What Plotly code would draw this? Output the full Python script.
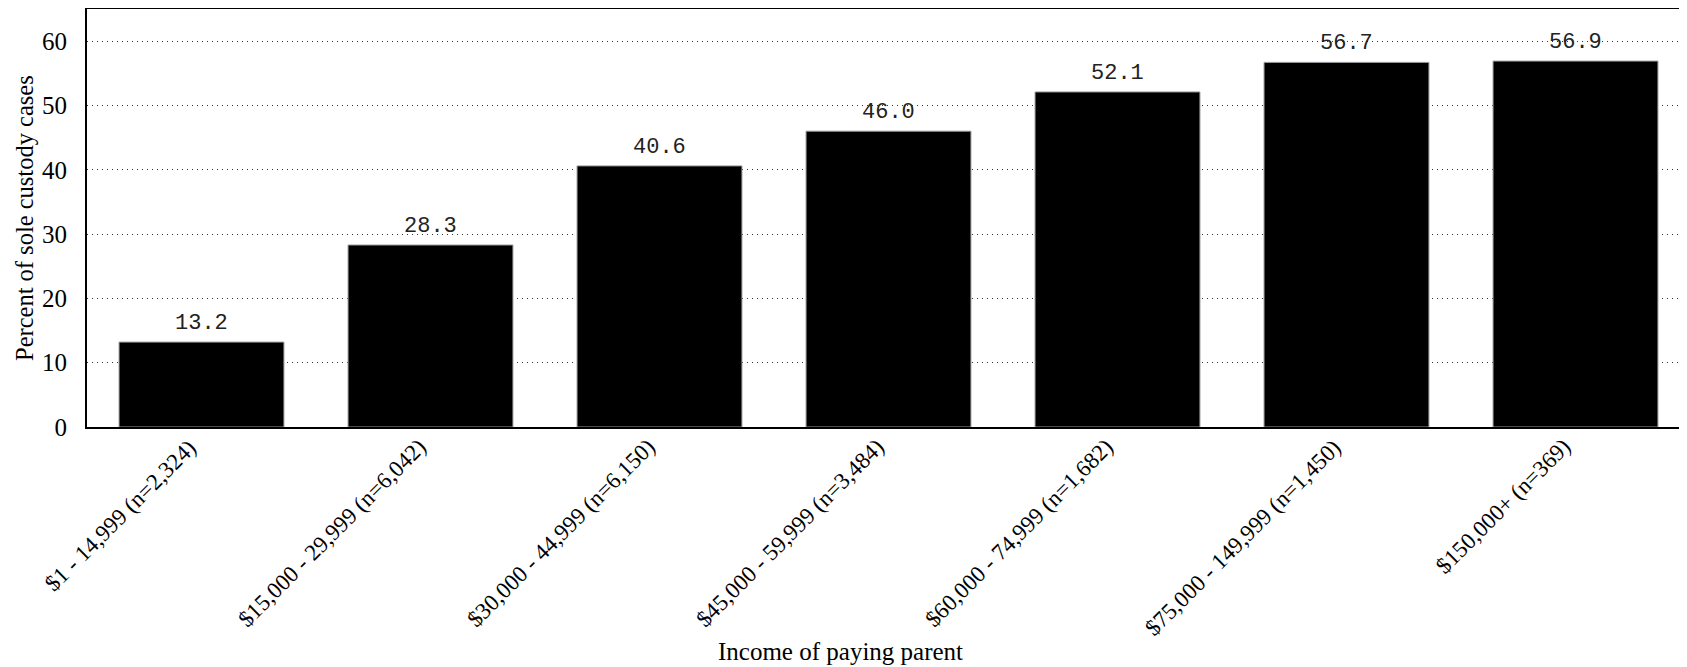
import plotly.graph_objects as go

categories = [
    "$1 - 14,999 (n=2,324)",
    "$15,000 - 29,999 (n=6,042)",
    "$30,000 - 44,999 (n=6,150)",
    "$45,000 - 59,999 (n=3,484)",
    "$60,000 - 74,999 (n=1,682)",
    "$75,000 - 149,999 (n=1,450)",
    "$150,000+ (n=369)",
]
values = [13.2, 28.3, 40.6, 46.0, 52.1, 56.7, 56.9]
y_ticks = [0, 10, 20, 30, 40, 50, 60]
x_title = "Income of paying parent"
y_title = "Percent of sole custody cases"

# page has an 8px body margin; figure sized so it fills the 1687x667 window
OFF = 8
W, H = 1687 - OFF, 667 - OFF
ML, MT, MB = 87 - OFF, 9 - OFF, 240
PW = W - ML
PH = H - MT - MB

fig = go.Figure()
fig.add_trace(go.Bar(
    x=categories, y=values,
    marker=dict(color="black", line=dict(color="#999999", width=1)),
    hoverinfo="skip",
))

for c, v in zip(categories, values):
    fig.add_annotation(
        x=c, y=v, text=f"{v:.1f}", showarrow=False,
        yanchor="bottom", yshift=4,
        font=dict(family="Liberation Mono", size=22, color="#222222"),
    )

# rotated category labels
for c in categories:
    fig.add_annotation(
        x=c, y=0, text=c, showarrow=False, textangle=-45,
        xanchor="right", yanchor="top", xshift=2.5, yshift=-5,
        font=dict(family="Liberation Serif", size=23, color="black"),
    )

# axis titles
fig.add_annotation(
    xref="paper", yref="paper", x=(840 - OFF - ML) / PW, y=-(651 - OFF - (H - MB)) / PH,
    text=x_title, showarrow=False, xanchor="center", yanchor="middle",
    font=dict(family="Liberation Serif", size=25, color="black"),
)
fig.add_annotation(
    xref="paper", yref="paper", x=(24 - OFF - ML) / PW, y=0.5,
    text=y_title, showarrow=False, xanchor="center", yanchor="middle", textangle=-90,
    font=dict(family="Liberation Serif", size=24.5, color="black"),
)

fig.update_layout(
    width=W, height=H,
    margin=dict(l=ML, r=0, t=MT, b=MB, pad=0, autoexpand=False),
    paper_bgcolor="white", plot_bgcolor="white",
    showlegend=False,
    bargap=0.28,
    xaxis=dict(
        type="category",
        range=[-0.5, 6.5 - 3 / 229],
        showticklabels=False,
        showline=True, linecolor="black", linewidth=2, mirror=True,
        showgrid=False, ticks="",
        zeroline=False,
    ),
    yaxis=dict(
        range=[0, 65],
        tickvals=y_ticks,
        tickfont=dict(family="Liberation Serif", size=25, color="black"),
        showline=True, linecolor="black", linewidth=2, mirror=False,
        showgrid=True, gridcolor="#333333", gridwidth=1, griddash="1px,4px",
        ticks="", ticklabelstandoff=13,
        zeroline=False,
    ),
)

fig.write_html("out.html")
